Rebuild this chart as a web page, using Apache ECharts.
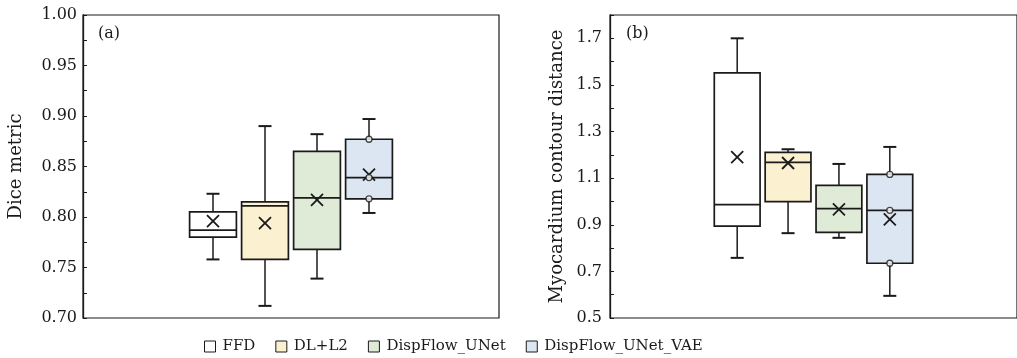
<!DOCTYPE html>
<html>
<head>
<meta charset="utf-8">
<script src="https://cdn.jsdelivr.net/npm/echarts@6/dist/echarts.min.js"></script>
<style>
  html, body { margin: 0; padding: 0; background: #fff; }
  #chart { width: 1017px; height: 358px; }
</style>
</head>
<body>
<div id="chart"></div>
<script>
// methods, in drawing order
const methods = ['FFD', 'DL+L2', 'DispFlow_UNet', 'DispFlow_UNet_VAE']
const fills = ['#ffffff', '#fbf0cf', '#dfebd7', '#dce6f2']

// (a) Dice metric: [low, q1, median, q3, high]
const diceStats = [
  [0.758, 0.780, 0.787, 0.805, 0.823],
  [0.712, 0.758, 0.811, 0.815, 0.890],
  [0.739, 0.768, 0.819, 0.865, 0.882],
  [0.804, 0.818, 0.839, 0.877, 0.897]
]
const diceMean = [0.796, 0.794, 0.817, 0.842]
const diceVaePoints = [0.877, 0.839, 0.818]
const diceTicks = [0.70, 0.75, 0.80, 0.85, 0.90, 0.95, 1.00]

// (b) Myocardium contour distance: [low, q1, median, q3, high]
const distStats = [
  [0.758, 0.894, 0.986, 1.552, 1.700],
  [0.864, 0.999, 1.168, 1.211, 1.224],
  [0.844, 0.867, 0.969, 1.069, 1.161],
  [0.595, 0.735, 0.962, 1.116, 1.234]
]
const distMean = [1.190, 1.165, 0.966, 0.923]
const distVaePoints = [1.116, 0.962, 0.735]
const distTicks = [0.5, 0.7, 0.9, 1.1, 1.3, 1.5, 1.7]

const font = 'DejaVu Serif'
const ink = '#1a1a1a'

function renderBox(params, api) {
  const x = api.value(0)
  const w = api.size([1, 0])[0] * 0.9
  const cx = api.coord([x, 0])[0]
  const y = i => api.coord([x, api.value(i)])[1]
  const low = y(1), q1 = y(2), med = y(3), q3 = y(4), high = y(5), mean = y(6)
  const cap = 6.5
  const m = 6
  const line = (x1, y1, x2, y2, lw) => ({
    type: 'line',
    shape: { x1, y1, x2, y2 },
    style: { stroke: ink, lineWidth: lw || 1.5 }
  })
  return {
    type: 'group',
    children: [
      line(cx, high, cx, q3),
      line(cx, q1, cx, low),
      line(cx - cap, high, cx + cap, high, 2),
      line(cx - cap, low, cx + cap, low, 2),
      {
        type: 'rect',
        shape: { x: cx - w / 2, y: q3, width: w, height: q1 - q3 },
        style: { fill: api.visual('color'), stroke: ink, lineWidth: 1.7 }
      },
      line(cx - w / 2, med, cx + w / 2, med, 1.7),
      line(cx - m, mean - m, cx + m, mean + m, 1.8),
      line(cx - m, mean + m, cx + m, mean - m, 1.8)
    ]
  }
}

function boxSeries(stats, means, axis) {
  return methods.map((name, i) => ({
    name,
    type: 'custom',
    xAxisIndex: axis,
    yAxisIndex: axis,
    itemStyle: { color: fills[i] },
    renderItem: renderBox,
    data: [[i].concat(stats[i], [means[i]])],
    z: 2
  }))
}

function pointSeries(points, axis) {
  return {
    type: 'scatter',
    xAxisIndex: axis,
    yAxisIndex: axis,
    symbol: 'circle',
    symbolSize: 6,
    itemStyle: { color: '#fff', borderColor: ink, borderWidth: 1.3 },
    data: points.map(v => [3, v]),
    z: 5
  }
}

function yAxis(grid, min, max, interval, ticks, digits, name, gap, margin) {
  return {
    type: 'value',
    gridIndex: grid,
    min,
    max,
    interval,
    name,
    nameLocation: 'middle',
    nameGap: gap,
    nameTextStyle: { fontFamily: font, fontSize: 18, color: ink },
    axisLine: { show: true, onZero: false, lineStyle: { color: ink, width: 1.3 } },
    axisTick: { show: true, inside: true, length: 4, lineStyle: { color: ink } },
    axisLabel: {
      customValues: ticks,
      margin,
      formatter: v => v.toFixed(digits),
      fontFamily: font,
      fontSize: 16,
      color: ink
    },
    splitLine: { show: false }
  }
}

function xAxis(grid) {
  return {
    type: 'value',
    gridIndex: grid,
    min: -2.5,
    max: 5.5,
    axisLine: { show: false, onZero: false },
    axisTick: { show: false },
    axisLabel: { show: false },
    splitLine: { show: false }
  }
}

const chart = echarts.init(document.getElementById('chart'))
chart.setOption({
  animation: false,
  title: [
    { text: '(a)', left: 98, top: 26, padding: 0, textStyle: { fontFamily: font, fontSize: 16, fontWeight: 'normal', color: ink } },
    { text: '(b)', left: 626, top: 26, padding: 0, textStyle: { fontFamily: font, fontSize: 16, fontWeight: 'normal', color: ink } }
  ],
  legend: {
    data: methods,
    left: 204,
    top: 339,
    padding: 0,
    icon: 'rect',
    itemWidth: 11,
    itemHeight: 11,
    itemGap: 20,
    itemStyle: { borderColor: ink, borderWidth: 1 },
    textStyle: { fontFamily: font, fontSize: 15, color: ink, padding: [0, 0, 0, 2] }
  },
  grid: [
    { left: 83, top: 15, width: 416, height: 303, show: true, borderColor: ink, borderWidth: 1.2 },
    { left: 610, top: 15, width: 416, height: 303, show: true, borderColor: ink, borderWidth: 1.2 }
  ],
  xAxis: [xAxis(0), xAxis(1)],
  yAxis: [
    yAxis(0, 0.7, 1.0, 0.025, diceTicks, 2, 'Dice metric', 58, 6),
    yAxis(1, 0.5, 1.8, 0.1, distTicks, 1, 'Myocardium contour distance', 44, 8)
  ],
  series: boxSeries(diceStats, diceMean, 0)
    .concat(boxSeries(distStats, distMean, 1))
    .concat([pointSeries(diceVaePoints, 0), pointSeries(distVaePoints, 1)])
})
</script>
</body>
</html>
